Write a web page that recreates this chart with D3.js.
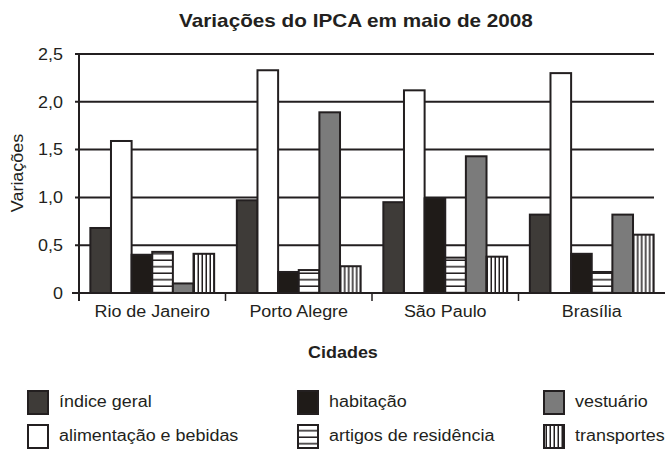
<!DOCTYPE html>
<html>
<head>
<meta charset="utf-8">
<script src="https://cdn.jsdelivr.net/npm/d3@7"></script>
<style>
  body { margin: 0; background: #fff; }
  svg { display: block; }
  text { font-family: "Liberation Sans", Arial, sans-serif; fill: #231f20; }
</style>
</head>
<body>
<svg width="670" height="450"></svg>
<script>
// data
var cities = ["Rio de Janeiro", "Porto Alegre", "São Paulo", "Brasília"];
var series = ["índice geral", "alimentação e bebidas", "habitação", "artigos de residência", "vestuário", "transportes"];
var indiceGeral  = [0.68, 0.97, 0.95, 0.82];
var alimentacao  = [1.59, 2.33, 2.12, 2.30];
var habitacao    = [0.40, 0.22, 0.99, 0.41];
var artigos      = [0.43, 0.24, 0.37, 0.22];
var vestuario    = [0.10, 1.89, 1.43, 0.82];
var transportes  = [0.41, 0.28, 0.38, 0.61];
var yTicks = [0, 0.5, 1.0, 1.5, 2.0, 2.5];
var yTickLabels = ["0", "0,5", "1,0", "1,5", "2,0", "2,5"];

var values = [indiceGeral, alimentacao, habitacao, artigos, vestuario, transportes];
var fills = ["#3e3b38", "#ffffff", "#1f1b18", "url(#hlines)", "#7b7b7b", "url(#vlines)"];
var ink = "#231f20";

var svg = d3.select("svg");

// scales
var x0 = d3.scaleBand().domain(cities).range([79, 665]);
var x1 = d3.scaleBand().domain(series).range([0, x0.bandwidth()]).paddingOuter(0.55);
var y = d3.scaleLinear().domain([0, 2.5]).range([293, 54]);

// stretch text a bit wider, like the picture
function widen(sel, k) {
  sel.each(function() {
    var len = this.getComputedTextLength();
    d3.select(this).attr("textLength", len * k).attr("lengthAdjust", "spacingAndGlyphs");
  });
}

// patterns for the striped bars
var defs = svg.append("defs");
defs.append("pattern")
    .attr("id", "hlines")
    .attr("patternUnits", "userSpaceOnUse")
    .attr("width", 10).attr("height", 6.5)
    .attr("y", y(0) + 0.5)
  .call(function(p) {
    p.append("rect").attr("width", 10).attr("height", 6.5).attr("fill", "#fff");
    p.append("rect").attr("y", 5).attr("width", 10).attr("height", 2).attr("fill", ink);
  });
defs.append("pattern")
    .attr("id", "vlines")
    .attr("patternUnits", "userSpaceOnUse")
    .attr("width", 4).attr("height", 10)
  .call(function(p) {
    p.append("rect").attr("width", 4).attr("height", 10).attr("fill", "#fff");
    p.append("rect").attr("x", 2.5).attr("width", 1.5).attr("height", 10).attr("fill", ink);
  });

// title
svg.append("text")
    .attr("x", 356).attr("y", 27)
    .attr("text-anchor", "middle")
    .style("font-size", "19px").style("font-weight", "bold")
    .text("Variações do IPCA em maio de 2008")
    .call(widen, 1.09);

// grid lines
svg.append("g")
  .selectAll("line")
  .data(yTicks.slice(1))
  .enter().append("line")
    .attr("x1", 75).attr("x2", 654)
    .attr("y1", function(d) { return y(d); })
    .attr("y2", function(d) { return y(d); })
    .attr("stroke", ink).attr("stroke-width", 2);

// y tick labels
svg.append("g")
  .selectAll("text")
  .data(yTicks)
  .enter().append("text")
    .attr("x", 63)
    .attr("y", function(d) { return y(d); })
    .attr("dy", "0.36em")
    .attr("text-anchor", "end")
    .style("font-size", "16px")
    .text(function(d, i) { return yTickLabels[i]; })
    .call(widen, 1.12);

// y axis line
svg.append("line")
    .attr("x1", 79).attr("x2", 79)
    .attr("y1", y(2.5)).attr("y2", y(0) + 8)
    .attr("stroke", ink).attr("stroke-width", 2);

// bars
var groups = svg.append("g")
  .selectAll("g")
  .data(cities)
  .enter().append("g")
    .attr("transform", function(d) { return "translate(" + x0(d) + ",0)"; });

groups.selectAll("rect")
  .data(function(d, ci) { return series.map(function(s, si) { return {s: s, si: si, v: values[si][ci]}; }); })
  .enter().append("rect")
    .attr("x", function(d) { return x1(d.s); })
    .attr("y", function(d) { return y(d.v); })
    .attr("width", x1.bandwidth())
    .attr("height", function(d) { return y(0) - y(d.v); })
    .attr("fill", function(d) { return fills[d.si]; })
    .attr("stroke", ink).attr("stroke-width", 2);

// x axis line and ticks
svg.append("line")
    .attr("x1", 72).attr("x2", 665)
    .attr("y1", y(0)).attr("y2", y(0))
    .attr("stroke", ink).attr("stroke-width", 2);
svg.append("g")
  .selectAll("line")
  .data(cities.slice(1))
  .enter().append("line")
    .attr("x1", function(d) { return x0(d); })
    .attr("x2", function(d) { return x0(d); })
    .attr("y1", y(0)).attr("y2", y(0) + 8)
    .attr("stroke", ink).attr("stroke-width", 1.5);

// city labels
svg.append("g")
  .selectAll("text")
  .data(cities)
  .enter().append("text")
    .attr("x", function(d) { return x0(d) + x0.bandwidth() / 2; })
    .attr("y", 317)
    .attr("text-anchor", "middle")
    .style("font-size", "16px")
    .text(function(d) { return d; })
    .call(widen, 1.12);

// axis titles
svg.append("text")
    .attr("x", 343).attr("y", 358)
    .attr("text-anchor", "middle")
    .style("font-size", "16px").style("font-weight", "bold")
    .text("Cidades")
    .call(widen, 1.12);

svg.append("text")
    .attr("transform", "translate(23,173) rotate(-90)")
    .attr("text-anchor", "middle")
    .style("font-size", "16px")
    .text("Variações")
    .call(widen, 1.12);

// legend, three columns of two
var legendCols = [27, 297, 543];
var legendRows = [390, 424];
var legend = svg.append("g")
  .selectAll("g")
  .data(series)
  .enter().append("g")
    .attr("transform", function(d, i) {
      return "translate(" + legendCols[Math.floor(i / 2)] + "," + legendRows[i % 2] + ")";
    });

legend.append("rect")
    .attr("x", 1).attr("y", 1)
    .attr("width", 20).attr("height", 23)
    .attr("fill", function(d, i) { return fills[i]; })
    .attr("stroke", ink).attr("stroke-width", 2);

legend.append("text")
    .attr("x", 32)
    .attr("y", 17)
    .style("font-size", "16px")
    .text(function(d) { return d; })
    .call(widen, 1.12);
</script>
</body>
</html>
